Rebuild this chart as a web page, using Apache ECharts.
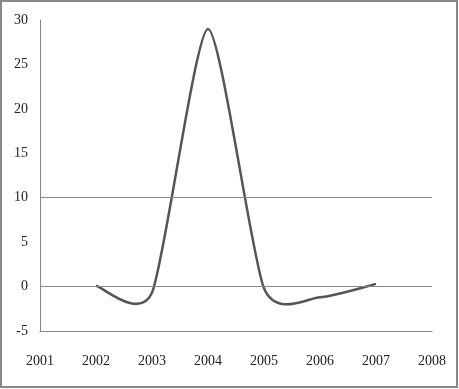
<!DOCTYPE html>
<html><head><meta charset="utf-8">
<script src="https://cdn.jsdelivr.net/npm/echarts@6/dist/echarts.min.js"></script>
<style>html,body{margin:0;padding:0;background:#fff}#c{width:459px;height:389px}</style>
</head><body><div id="c"></div>
<script>
const years = [2002, 2003, 2004, 2005, 2006, 2007];
const values = [0.1, -0.7, 29, -0.2, -1.2, 0.3];
const yTicks = [-5, 0, 5, 10, 15, 20, 25, 30];
const xTicks = [2001, 2002, 2003, 2004, 2005, 2006, 2007, 2008];
const refLines = [0, 10];

const chart = echarts.init(document.getElementById('c'), null, {renderer: 'canvas'});
const font = {fontFamily: 'Liberation Serif', fontSize: 14, color: '#222'};
const TENSION = 0.11;

function renderCurve(params, api) {
  if (params.dataIndex !== 0) return null;
  const pts = years.map((y, i) => api.coord([y, values[i]]));
  const n = pts.length;
  let d = 'M' + pts[0][0] + ' ' + pts[0][1];
  for (let i = 0; i < n - 1; i++) {
    const p0 = pts[Math.max(i - 1, 0)], p1 = pts[i], p2 = pts[i + 1], p3 = pts[Math.min(i + 2, n - 1)];
    const c1 = [p1[0] + (p2[0] - p0[0]) * TENSION, p1[1] + (p2[1] - p0[1]) * TENSION];
    const c2 = [p2[0] - (p3[0] - p1[0]) * TENSION, p2[1] - (p3[1] - p1[1]) * TENSION];
    d += ' C' + c1.join(' ') + ' ' + c2.join(' ') + ' ' + p2.join(' ');
  }
  return {type: 'path', shape: {pathData: d},
    style: {fill: 'none', stroke: '#555', lineWidth: 2.5}};
}

chart.setOption({
  animation: false,
  grid: {left: 40, right: 27, top: 20, bottom: 58},
  graphic: [{type: 'rect', shape: {x: 1, y: 1, width: 456, height: 386},
    style: {fill: 'none', stroke: '#888', lineWidth: 2}}],
  xAxis: {type: 'value', min: xTicks[0], max: xTicks[xTicks.length - 1], interval: 1,
    axisLine: {onZero: false, lineStyle: {color: '#888', width: 1}},
    axisTick: {show: false}, splitLine: {show: false},
    axisLabel: Object.assign({margin: 23, formatter: v => String(v)}, font)},
  yAxis: {type: 'value', min: yTicks[0], max: yTicks[yTicks.length - 1], interval: 5,
    axisLine: {show: true, lineStyle: {color: '#888', width: 1}},
    axisTick: {show: false}, splitLine: {show: false},
    axisLabel: Object.assign({margin: 12}, font)},
  series: [
    {type: 'line', data: refLines.map(v => [xTicks[0], v]), showSymbol: false,
      lineStyle: {opacity: 0}, silent: true,
      markLine: {silent: true, symbol: 'none', label: {show: false},
        lineStyle: {color: '#888', width: 1, type: 'solid'},
        data: refLines.map(v => ({yAxis: v}))}},
    {type: 'custom', data: years.map((y, i) => [y, values[i]]),
      renderItem: renderCurve, silent: true}
  ]
});
</script></body></html>
